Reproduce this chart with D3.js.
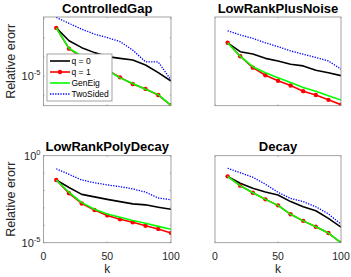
<!DOCTYPE html>
<html><head><meta charset="utf-8">
<script src="https://cdn.jsdelivr.net/npm/d3@7"></script>
<style>body{margin:0;background:#fff}svg{display:block;font-family:"Liberation Sans",Arial,Helvetica,sans-serif}</style>
</head><body><svg id="c" width="351" height="277"></svg>
<script>
const kValues = [10,20,30,40,50,60,70,80,90,100];
const panelTitles = ["ControlledGap","LowRankPlusNoise","LowRankPolyDecay","Decay"];
const seriesNames = ["q = 0","q = 1","GenEig","TwoSided"];
const xTicks = [0,50,100];

const cgQ0 = [3.4e-3,7.2e-4,3.1e-4,1.7e-4,1.05e-4,8.5e-5,6.9e-5,3.8e-5,1.5e-5,5.5e-6];
const cgQ1 = [3.4e-3,2.75e-4,1.0e-4,4.3e-5,2.1e-5,8.5e-6,3.8e-6,2.1e-6,1.0e-6,2.9e-7];
const cgGen = [3.4e-3,2.9e-4,1.1e-4,4.6e-5,2.0e-5,8.0e-6,4.0e-6,2.0e-6,1.05e-6,2.9e-7];
const cgTwo = [1.2e-2,5.9e-3,2.9e-3,1.6e-3,1.05e-3,6.5e-4,2.3e-4,5.6e-5,5.5e-5,6.2e-6];

const lpnQ0 = [5.6e-4,1.9e-4,1.45e-4,8.5e-5,6.2e-5,4.2e-5,3.4e-5,2.0e-5,1.5e-5,1.05e-5];
const lpnQ1 = [5.6e-4,1.1e-4,2.75e-5,1.1e-5,5.6e-6,3.2e-6,1.6e-6,1.0e-6,5.6e-7,3.1e-7];
const lpnGen = [5.6e-4,1.1e-4,3.1e-5,1.5e-5,8.1e-6,4.5e-6,2.5e-6,1.6e-6,9.1e-7,5.5e-7];
const lpnTwo = [2.4e-3,1.45e-3,9.5e-4,5.6e-4,3.5e-4,2.1e-4,1.4e-4,9.5e-5,6.2e-5,2.3e-5];

const lpdQ0 = [4.0e-2,1.5e-2,6.0e-3,4.3e-3,3.1e-3,2.3e-3,1.7e-3,1.5e-3,1.1e-3,8.3e-4];
const lpdQ1 = [4.0e-2,6.9e-3,1.8e-3,7.6e-4,3.7e-4,2.2e-4,1.5e-4,9.5e-5,6.2e-5,3.6e-5];
const lpdGen = [4.0e-2,7.9e-3,2.0e-3,8.3e-4,4.5e-4,2.9e-4,1.9e-4,1.3e-4,8.7e-5,5.9e-5];
const lpdTwo = [0.178,8.5e-2,4.0e-2,2.8e-2,2.1e-2,1.66e-2,1.23e-2,8.1e-3,3.7e-3,2.95e-3];

const decQ0 = [6.5e-2,2.6e-2,1.35e-2,8.1e-3,5.5e-3,2.3e-3,1.17e-3,6.9e-4,2.5e-4,7.8e-5];
const decQ1 = [6.5e-2,1.9e-2,7.4e-3,3.1e-3,1.4e-3,4.3e-4,1.8e-4,8.3e-5,3.6e-5,1.0e-5];
const decGen = [6.5e-2,1.9e-2,7.4e-3,3.1e-3,1.4e-3,4.3e-4,1.8e-4,8.3e-5,3.6e-5,1.0e-5];
const decTwo = [0.19,0.105,5.8e-2,2.3e-2,7.9e-3,3.5e-3,2.3e-3,1.17e-3,4.5e-4,1.15e-4];

const topYDomain = [2.75e-7, 1.27e-2];
const bottomYDomain = [1e-5, 1];
const topYTicks = [1e-6,1e-5,1e-4,1e-3,1e-2];
const bottomYTicks = [1e-5,1e-4,1e-3,1e-2,1e-1,1];

const panelData = [
  [cgQ0,cgQ1,cgGen,cgTwo],
  [lpnQ0,lpnQ1,lpnGen,lpnTwo],
  [lpdQ0,lpdQ1,lpdGen,lpdTwo],
  [decQ0,decQ1,decGen,decTwo]
];

const colors = ["#000000","#ff0000","#00ff00","#0000ff"];
const svg = d3.select("#c");

const boxes = [
  {x0:43.5,x1:171,y0:17,y1:105.7,dom:topYDomain,ticks:topYTicks,labels:[1e-5],xlab:false,ylab:true},
  {x0:215,x1:341,y0:17,y1:105.7,dom:topYDomain,ticks:[],labels:[],xlab:false,ylab:false},
  {x0:43.5,x1:171,y0:155.7,y1:242.7,dom:bottomYDomain,ticks:bottomYTicks,labels:[1e-5,1],xlab:true,ylab:true},
  {x0:215,x1:341,y0:155.7,y1:242.7,dom:bottomYDomain,ticks:[],labels:[],xlab:true,ylab:false}
];

boxes.forEach((b,i)=>{
  const x = d3.scaleLinear().domain([0,100]).range([b.x0,b.x1]);
  const y = d3.scaleLog().domain(b.dom).range([b.y1,b.y0]);
  const g = svg.append("g");
  const cid = "clip"+i;
  svg.append("clipPath").attr("id",cid).append("rect")
    .attr("x",b.x0).attr("y",b.y0).attr("width",b.x1-b.x0).attr("height",b.y1-b.y0);
  const tl = 1.4;
  b.ticks.forEach(t=>{
    g.append("line").attr("x1",b.x0).attr("x2",b.x0+tl).attr("y1",y(t)).attr("y2",y(t)).attr("stroke","#8c8c8c").attr("stroke-width",0.6);
    g.append("line").attr("x1",b.x1).attr("x2",b.x1-tl).attr("y1",y(t)).attr("y2",y(t)).attr("stroke","#8c8c8c").attr("stroke-width",0.6);
  });
  xTicks.forEach(t=>{
    g.append("line").attr("x1",x(t)).attr("x2",x(t)).attr("y1",b.y1).attr("y2",b.y1-tl).attr("stroke","#8c8c8c").attr("stroke-width",0.6);
    g.append("line").attr("x1",x(t)).attr("x2",x(t)).attr("y1",b.y0).attr("y2",b.y0+tl).attr("stroke","#8c8c8c").attr("stroke-width",0.6);
  });
  const line = d3.line().x((d,j)=>x(kValues[j])).y(d=>y(d));
  const pg = g.append("g").attr("clip-path","url(#"+cid+")");
  panelData[i].forEach((vals,s)=>{
    pg.append("path").datum(vals).attr("d",line).attr("fill","none")
      .attr("stroke",colors[s]).attr("stroke-width", s===3?1.3:1.6)
      .attr("stroke-dasharray", s===3?"1.3,1.3":null).attr("stroke-linejoin","round");
    if(s===1){
      pg.selectAll(null).data(vals).enter().append("circle")
        .attr("cx",(d,j)=>x(kValues[j])).attr("cy",d=>y(d)).attr("r",2.2).attr("fill","#ff0000");
    }
  });
  g.append("rect").attr("x",b.x0).attr("y",b.y0).attr("width",b.x1-b.x0).attr("height",b.y1-b.y0)
    .attr("fill","none").attr("stroke","#8c8c8c").attr("stroke-width",0.8);
  b.labels.forEach(t=>{
    const e = Math.round(Math.log10(t));
    const tx = g.append("text").attr("x",b.x0-3).attr("y",y(t)+4).attr("text-anchor","end")
      .attr("font-size",11).attr("fill","#262626");
    tx.append("tspan").text("10");
    tx.append("tspan").attr("dy",-5).attr("font-size",7.5).text(e===0?"0":"-"+Math.abs(e));
  });
  if(b.xlab){
    xTicks.forEach(t=>{
      g.append("text").attr("x",x(t)).attr("y",b.y1+17.5).attr("text-anchor","middle")
        .attr("font-size",10.5).attr("fill","#262626").text(t);
    });
    g.append("text").attr("x",(b.x0+b.x1)/2).attr("y",b.y1+30.5).attr("text-anchor","middle")
      .attr("font-size",12).attr("fill","#262626").text("k");
  }
  if(b.ylab){
    g.append("text").attr("transform","translate(15,"+((b.y0+b.y1)/2)+") rotate(-90)")
      .attr("text-anchor","middle").attr("font-size",12.5).attr("fill","#262626").text("Relative erorr");
  }
  g.append("text").attr("x",(b.x0+b.x1)/2).attr("y",b.y0-4.5).attr("text-anchor","middle")
    .attr("font-size",13).attr("font-weight","bold").attr("fill","#000").text(panelTitles[i]);
});

const lg = svg.append("g");
const L = {x:47,y:54,w:65,h:47};
lg.append("rect").attr("x",L.x).attr("y",L.y).attr("width",L.w).attr("height",L.h)
  .attr("fill","#fff").attr("stroke","#8c8c8c").attr("stroke-width",0.8);
seriesNames.forEach((n,s)=>{
  const yy = L.y + 7 + s*11;
  lg.append("line").attr("x1",L.x+3).attr("x2",L.x+23).attr("y1",yy).attr("y2",yy)
    .attr("stroke",colors[s]).attr("stroke-width",s===3?1.3:1.6).attr("stroke-dasharray",s===3?"1.3,1.3":null);
  if(s===1) lg.append("circle").attr("cx",L.x+13).attr("cy",yy).attr("r",2.2).attr("fill","#ff0000");
  lg.append("text").attr("x",L.x+24.5).attr("y",yy+3).attr("font-size",8.5).attr("fill","#000").text(n);
});
</script></body></html>
